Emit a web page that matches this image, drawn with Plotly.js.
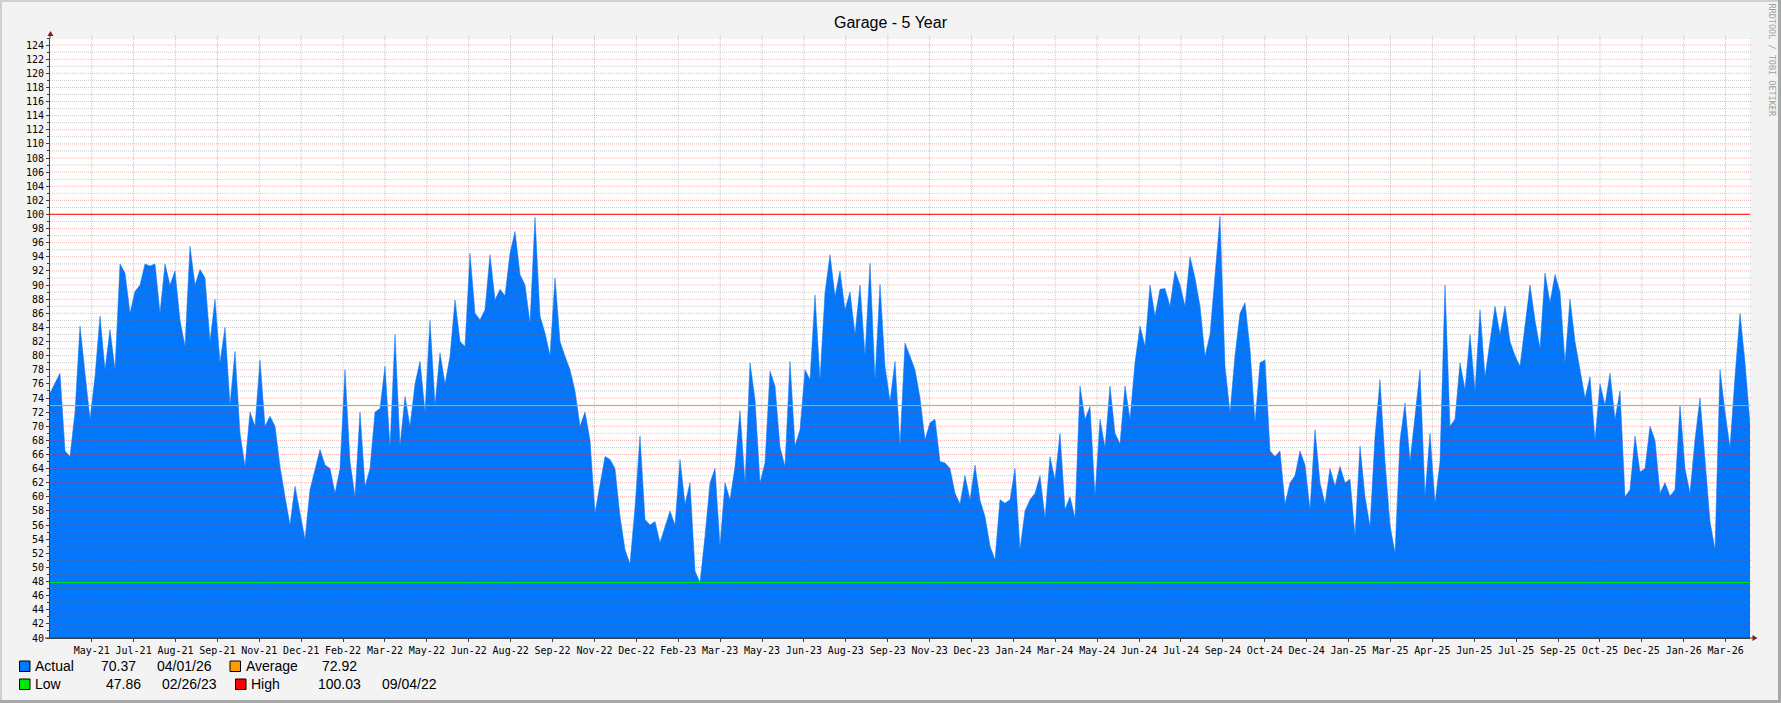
<!DOCTYPE html>
<html>
<head>
<meta charset="utf-8">
<script src="https://cdn.plot.ly/plotly-3.0.1.min.js"></script>
<style>
html,body{margin:0;padding:0;background:#f3f3f3;}
#chart{width:1781px;height:703px;}
</style>
</head>
<body>
<div id="chart"></div>
<script>
// ---------------- data ----------------
const TITLE = 'Garage - 5 Year';
const START_DATE = '2021-04-02';
const SPAN_DAYS = 1826;
const FIRST_TICK_DAYS = 44.8;
const TICK_STEP_DAYS = 45;

const tickLabels = ['May-21','Jul-21','Aug-21','Sep-21','Nov-21','Dec-21','Feb-22','Mar-22','May-22','Jun-22',
  'Aug-22','Sep-22','Nov-22','Dec-22','Feb-23','Mar-23','May-23','Jun-23','Aug-23','Sep-23',
  'Nov-23','Dec-23','Jan-24','Mar-24','May-24','Jun-24','Jul-24','Sep-24','Oct-24','Dec-24',
  'Jan-25','Mar-25','Apr-25','Jun-25','Jul-25','Sep-25','Oct-25','Dec-25','Jan-26','Mar-26'];

const actual = [
  74.7,76.1,77.5,66.5,65.7,72,84.2,77.5,71,77,85.6,78,83.7,78,93,91.7,86,89.1,90,93,
  92.7,93,86,93,90,92,85,81.3,95.5,90,92.2,91,82,88,79,84,73,80.6,69,64.3,
  72,70,79.4,70,71.4,70,64.3,60,56,61.5,58,54,61,63.9,66.7,64.5,64,60.5,64,78,
  65,60,72,61.5,64,72,72.5,78.5,67,
  83,67.2,74.2,70,76,79.2,72,85,73,80.4,76,79.9,87.9,82,81.3,94.5,86,85.1,86.5,94.3,
  87.9,89.4,88.5,94.5,97.6,91.5,90,84.6,99.6,85.6,83.2,80,91,82,79.9,78,75,70,72,68,
  57.7,61.5,65.7,65.3,64,57.2,52.5,50.5,58.5,68.6,56.8,56,56.5,53.5,55.8,58,56,65.3,59,62,
  49.5,47.86,54.4,62,64,53,62,59.6,
  64.3,72.2,62,79,73.8,62,64.8,77.8,75.7,67,64.3,79.2,67.2,69.5,78,76.6,88.6,76.6,88.9,94.3,
  88.4,92,86.5,89,83,90,80,93.1,76.6,90.1,78.5,73.5,79.2,67.2,81.8,80,78,74,68.1,70.5,
  71,65,64.8,64,60.5,59,63,59.6,64.5,59.5,57.2,53,51.1,59.6,59.1,59.6,64,52.5,58,59.6,
  60.5,63,57,65.7,62.4,69,58.2,60,
  57,75.7,71,72.8,60.1,71,67,75.7,69,67.5,75.7,71,79,84.2,81.3,90,85.6,89.4,89.5,87,
  92,90,87,94,91,87,79.9,83,91.2,99.7,78.5,71.9,80,86,87.5,80.9,70.5,79,79.4,66.5,
  65.7,66.5,59,62,63,66.5,64.5,58.2,69.5,62,59,64,61.5,64.3,62,62.5,54.5,67.2,60,55.8,
  68.5,76.6,65,56,52,68,73.3,65,
  71.4,78,60.1,69,59.1,65,90,70,71,79,75.2,83,75,86.5,77,81.8,87,83,87,82,
  80,78.5,84,90,85,81,91.7,87.5,91.5,89,79,88,82,78,74,77,68,76,73,77.5,
  71,75,60,61,68.6,63.5,64,70,68,60.5,62,60.1,61,73,64,60.5,68.1,74,65,56.5,
  52.5,78,72,67,77,86,79,70.37
];

const ACTUAL_LAST = '70.37', ACTUAL_DATE = '04/01/26';
const AVERAGE = 72.92;
const LOW = 47.86, LOW_DATE = '02/26/23';
const HIGH = 100.03, HIGH_DATE = '09/04/22';

const Y_MIN = 40, Y_MAX = 125, Y_LABEL_MAX = 124;

// ---------------- layout helpers ----------------
const W = 1781, H = 703;
const PL = 50, PR = 1750, PT = 38, PB = 638;
const fx = px => (px - PL) / (PR - PL);
const fy = py => (PB - py) / (PB - PT);
const DAY = 86400000;
const t0 = Date.parse(START_DATE + 'T00:00:00Z');
const iso = ms => new Date(ms).toISOString().replace('T', ' ').replace('Z', '');
const step = SPAN_DAYS * DAY / (actual.length - 1);
const xs = actual.map((_, i) => iso(t0 + i * step));
const tickvals = tickLabels.map((_, n) => iso(t0 + (FIRST_TICK_DAYS + TICK_STEP_DAYS * n) * DAY));

const shapes = [];
// minor horizontal grid
for (let v = Y_MIN + 1; v <= Y_MAX; v++) {
  if (v % 2 === 1) shapes.push({type:'line', layer:'above', xref:'paper', x0:0, x1:1.001, yref:'y', y0:v, y1:v,
    line:{color:'rgba(120,120,120,0.38)', width:1, dash:'1px,1px'}});
}
// major horizontal grid
for (let v = Y_MIN + 2; v <= Y_LABEL_MAX; v += 2) {
  shapes.push({type:'line', layer:'above', xref:'paper', x0:0, x1:1.001, yref:'y', y0:v, y1:v,
    line:{color:'rgba(235,60,60,0.38)', width:1, dash:'1px,1px'}});
}
// vertical grid
tickvals.forEach(tv => shapes.push({type:'line', layer:'above', xref:'x', x0:tv, x1:tv, yref:'paper', y0:0, y1:fy(35),
  line:{color:'rgba(235,60,60,0.38)', width:1, dash:'1px,1px'}}));
// reference lines
[[HIGH,'#ff0000'],[AVERAGE,'#ff9d00'],[LOW,'#00e600']].forEach(([v,c]) =>
  shapes.push({type:'line', layer:'above', xref:'paper', x0:0, x1:1, yref:'y', y0:v, y1:v, line:{color:c, width:1}}));
// axis extensions and arrows
shapes.push({type:'line', layer:'above', xref:'paper', yref:'paper', x0:0, x1:0, y0:1, y1:fy(34), line:{color:'#404040', width:1}});
shapes.push({type:'line', layer:'above', xref:'paper', yref:'paper', x0:fx(45), x1:fx(1754), y0:0, y1:0, line:{color:'#404040', width:1}});
shapes.push({type:'path', layer:'above', xref:'paper', yref:'paper',
  path:`M ${fx(47.5)} ${fy(36)} L ${fx(50.5)} ${fy(31)} L ${fx(53.5)} ${fy(36)} Z`, fillcolor:'#8b1a1a', line:{width:0}});
shapes.push({type:'path', layer:'above', xref:'paper', yref:'paper',
  path:`M ${fx(1752.5)} ${fy(635)} L ${fx(1757.5)} ${fy(638)} L ${fx(1752.5)} ${fy(641)} Z`, fillcolor:'#8b1a1a', line:{width:0}});
// legend swatches
const swatches = [[19.5,661,'#0077ff'],[230,661,'#ff9d00'],[19.5,679,'#00e600'],[235.5,679,'#ff0000']];
swatches.forEach(([x,y,c]) => shapes.push({type:'rect', xref:'paper', yref:'paper',
  x0:fx(x), x1:fx(x+10.5), y0:fy(y), y1:fy(y+10.5), fillcolor:c, line:{color:'#000', width:1}}));
// outer frame
shapes.push({type:'line', xref:'paper', yref:'paper', x0:fx(0), x1:fx(W), y0:fy(1), y1:fy(1), line:{color:'#cfcfcf', width:2}});
shapes.push({type:'line', xref:'paper', yref:'paper', x0:fx(1), x1:fx(1), y0:fy(0), y1:fy(H), line:{color:'#cfcfcf', width:2}});
shapes.push({type:'line', xref:'paper', yref:'paper', x0:fx(0), x1:fx(W), y0:fy(H-1.5), y1:fy(H-1.5), line:{color:'#a8a8a8', width:3}});
shapes.push({type:'line', xref:'paper', yref:'paper', x0:fx(W-1.5), x1:fx(W-1.5), y0:fy(0), y1:fy(H), line:{color:'#a8a8a8', width:3}});

const legFont = {family:'Liberation Sans, Arial, sans-serif', size:14, color:'#000'};
const legendItems = [
  ['Actual', 32.5, 666], [ACTUAL_LAST, 99, 666], [ACTUAL_DATE, 155, 666],
  ['Average', 243.5, 666], [AVERAGE.toFixed(2), 320, 666],
  ['Low', 32.5, 684], [LOW.toFixed(2), 104, 684], [LOW_DATE, 160, 684],
  ['High', 248.5, 684], [HIGH.toFixed(2), 316, 684], [HIGH_DATE, 380, 684]
];
const annotations = legendItems.map(([t,x,y]) => ({text:t, xref:'paper', yref:'paper', x:fx(x), y:fy(y),
  xanchor:'left', yanchor:'middle', showarrow:false, font:legFont}));
annotations.push({text:'RRDTOOL / TOBI OETIKER', xref:'paper', yref:'paper', x:fx(1771.5), y:fy(60),
  xanchor:'center', yanchor:'middle', textangle:90, showarrow:false,
  font:{family:'DejaVu Sans Mono, monospace', size:8.5, color:'#a0a0a0'}});

const axisFont = {family:'DejaVu Sans Mono, monospace', size:10, color:'#000'};

const trace = {
  type:'scatter', mode:'lines', x:xs, y:actual,
  line:{color:'#0077ff', width:0.5}, fill:'tozeroy', fillcolor:'#0077ff',
  hoverinfo:'skip', showlegend:false
};

const layout = {
  width:W, height:H, autosize:false,
  paper_bgcolor:'#f3f3f3', plot_bgcolor:'#ffffff',
  margin:{l:PL, r:W-PR, t:PT, b:H-PB, pad:0},
  showlegend:false,
  title:{text:TITLE, font:{family:'Liberation Sans, Arial, sans-serif', size:16, color:'#000'},
    x:0.5, xref:'container', xanchor:'center', y:1-22.5/H, yref:'container', yanchor:'middle'},
  xaxis:{type:'date', range:[iso(t0), iso(t0 + SPAN_DAYS*DAY)], tickmode:'array', tickvals:tickvals, ticktext:tickLabels,
    showgrid:false, zeroline:false, showline:true, linecolor:'#404040', linewidth:1,
    ticks:'outside', ticklen:3, tickcolor:'#404040', tickfont:axisFont, fixedrange:true},
  yaxis:{range:[Y_MIN, Y_MAX], tickmode:'linear', tick0:Y_MIN, dtick:2,
    showgrid:false, zeroline:false, showline:true, linecolor:'#404040', linewidth:1,
    ticks:'outside', ticklen:3, tickcolor:'#404040', tickfont:axisFont,
    minor:{dtick:1, tick0:Y_MIN, ticks:'outside', ticklen:2, tickcolor:'#404040', showgrid:false},
    fixedrange:true},
  shapes:shapes,
  annotations:annotations
};

// hide the 125 label beyond last label (linear ticks stop at range)
Plotly.newPlot('chart', [trace], layout, {staticPlot:true, displayModeBar:false});
</script>
</body>
</html>
